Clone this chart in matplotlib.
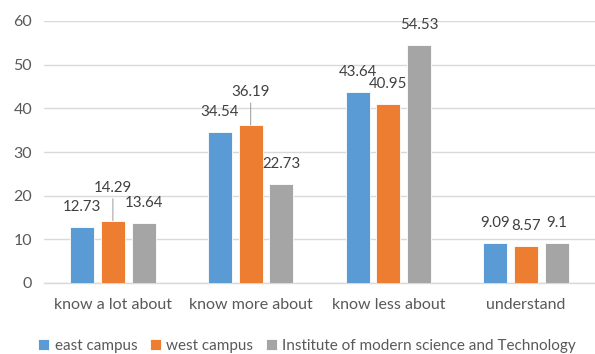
import matplotlib
matplotlib.use("Agg")
import matplotlib.pyplot as plt
import numpy as np

categories = ["know a lot about", "know more about", "know less about", "understand"]
series_names = ["east campus", "west campus", "Institute of modern science and Technology"]
east_campus = [12.73, 34.54, 43.64, 9.09]
west_campus = [14.29, 36.19, 40.95, 8.57]
institute = [13.64, 22.73, 54.53, 9.1]
y_ticks = [0, 10, 20, 30, 40, 50, 60]

series = [east_campus, west_campus, institute]
colors = ["#5B9BD5", "#ED7D31", "#A5A5A5"]
text_color = "#595959"
label_color = "#404040"
grid_color = "#D9D9D9"

plt.rcParams["font.family"] = ["Lato", "DejaVu Sans"]

fig = plt.figure(figsize=(5.95, 3.54), dpi=100)
ax = fig.add_axes([44 / 595, 1 - 283 / 354, 551 / 595, 262 / 354])

x = np.arange(len(categories))
bar_w = 0.175
step = 0.2236

# labels lifted higher with a leader line (series index, category index)
leader = {(1, 0), (1, 1)}

for i, (vals, col) in enumerate(zip(series, colors)):
    pos = x + (i - 1) * step
    ax.bar(pos, vals, width=bar_w, color=col, edgecolor="white",
           linewidth=0.6, zorder=3, label=series_names[i])
    for j, (px, v) in enumerate(zip(pos, vals)):
        txt = f"{v:g}"
        if (i, j) in leader:
            ax.annotate(txt, xy=(px, v), xytext=(0, 33), textcoords="offset pixels",
                        ha="center", va="center", fontsize=10.8, color=label_color,
                        arrowprops=dict(arrowstyle="-", color="#A6A6A6", lw=0.8,
                                        shrinkA=1, shrinkB=0, relpos=(0.5, 0.0)))
        else:
            ax.annotate(txt, xy=(px, v), xytext=(0, 20), textcoords="offset pixels",
                        ha="center", va="center", fontsize=10.8, color=label_color)

ax.set_xlim(-0.5, len(categories) - 0.5)
ax.set_ylim(0, 60)
ax.set_yticks(y_ticks)
ax.set_xticks(x)
ax.set_xticklabels(categories)
ax.tick_params(axis="both", length=0, labelsize=11.5, labelcolor=text_color)
ax.tick_params(axis="y", pad=8.6)
ax.tick_params(axis="x", pad=11)
ax.grid(axis="y", color=grid_color, linewidth=1.0, zorder=0)
for side in ["top", "right", "left"]:
    ax.spines[side].set_visible(False)
ax.spines["bottom"].set_color(grid_color)
ax.spines["bottom"].set_linewidth(1.0)

handles, labels = ax.get_legend_handles_labels()
fig.legend(handles, labels, loc="center", bbox_to_anchor=(307 / 595, 1 - 346 / 354),
           ncol=3, frameon=False, fontsize=11, labelcolor=text_color,
           handlelength=0.75, handleheight=0.75, handletextpad=0.35,
           columnspacing=0.8, borderaxespad=0, borderpad=0)

fig.savefig("out.png", dpi=100)
